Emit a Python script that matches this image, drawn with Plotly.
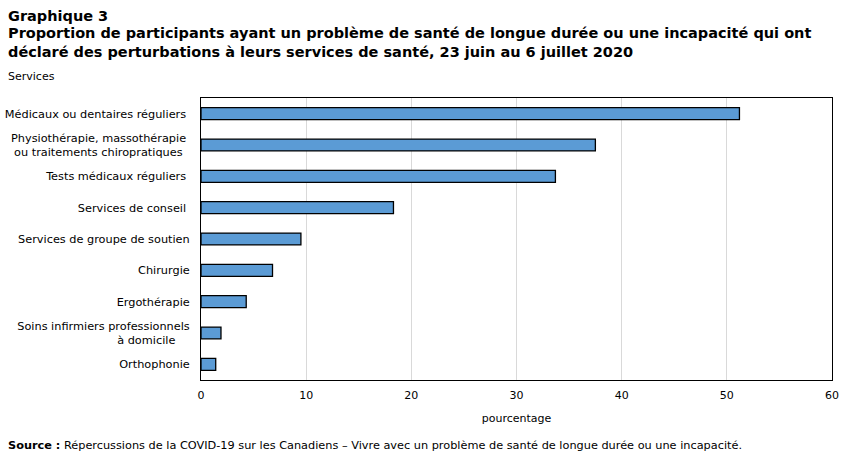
import plotly.graph_objects as go

NB = "\u00a0"
categories = [
    "Médicaux ou dentaires réguliers" + NB,
    "Physiothérapie, massothérapie" + NB + "<br>ou traitements chiropratiques" + NB + NB,
    "Tests médicaux réguliers" + NB,
    "Services de conseil" + NB,
    "Services de groupe de soutien",
    "Chirurgie",
    "Ergothérapie",
    "Soins infirmiers professionnels<br>à domicile" + NB + NB + NB + NB,
    "Orthophonie",
]
values = [51.2, 37.5, 33.7, 18.3, 9.5, 6.8, 4.3, 1.9, 1.4]
x_ticks = [0, 10, 20, 30, 40, 50, 60]

FONT = "Verdana, DejaVu Sans, sans-serif"

fig = go.Figure(go.Bar(
    y=categories[::-1],
    x=values[::-1],
    orientation="h",
    marker=dict(color="#5b9bd5", line=dict(color="#000000", width=1.3)),
    width=0.38,
    hoverinfo="x+y",
))

fig.update_layout(
    width=851, height=466,
    margin=dict(l=201, r=19, t=98, b=86),
    paper_bgcolor="white", plot_bgcolor="white",
    font=dict(family=FONT, size=11, color="#000000"),
    showlegend=False,
    xaxis=dict(
        range=[0, 60], tickvals=x_ticks, ticks="outside", ticklen=5, tickcolor="white",
        showgrid=True, gridcolor="#d9d9d9", gridwidth=1, zeroline=False,
        showline=True, linecolor="#000000", linewidth=1, mirror=True, automargin=False,
        title=dict(text="pourcentage", font=dict(size=11), standoff=13),
        tickfont=dict(size=11),
    ),
    yaxis=dict(
        showgrid=False, zeroline=False, ticks="outside", ticklen=8, tickcolor="white",
        showline=True, linecolor="#000000", linewidth=1, mirror=True, automargin=False,
        tickfont=dict(size=11.3), range=[-0.5, 8.5],
    ),
    annotations=[
        dict(text="<b>Graphique 3</b>", x=6, y=466 - 6, showarrow=False,
             xanchor="left", yanchor="top", font=dict(size=14.5)),
        dict(text="<b>Proportion de participants ayant un problème de santé de longue durée ou une incapacité qui ont<br>déclaré des perturbations à leurs services de santé, 23 juin au 6 juillet 2020</b>",
             x=6, y=466 - 23, showarrow=False,
             xanchor="left", yanchor="top", align="left", font=dict(size=14.5)),
        dict(text="Services", x=6, y=466 - 68, showarrow=False, xanchor="left", yanchor="top",
             font=dict(size=11)),
        dict(text="<b>Source :</b> Répercussions de la COVID-19 sur les Canadiens – Vivre avec un problème de santé de longue durée ou une incapacité.",
             x=6, y=466 - 437, showarrow=False, xanchor="left", yanchor="top",
             font=dict(size=11.3)),
    ],
)

# convert pixel-based annotation positions to paper coordinates
plot_w = 851 - 201 - 19
plot_h = 466 - 98 - 86
for a in fig.layout.annotations:
    a.xref = "paper"
    a.yref = "paper"
    px_x = a.x
    px_y = a.y
    a.x = (px_x - 201) / plot_w
    a.y = (px_y - 86) / plot_h

fig.write_html("out.html")
